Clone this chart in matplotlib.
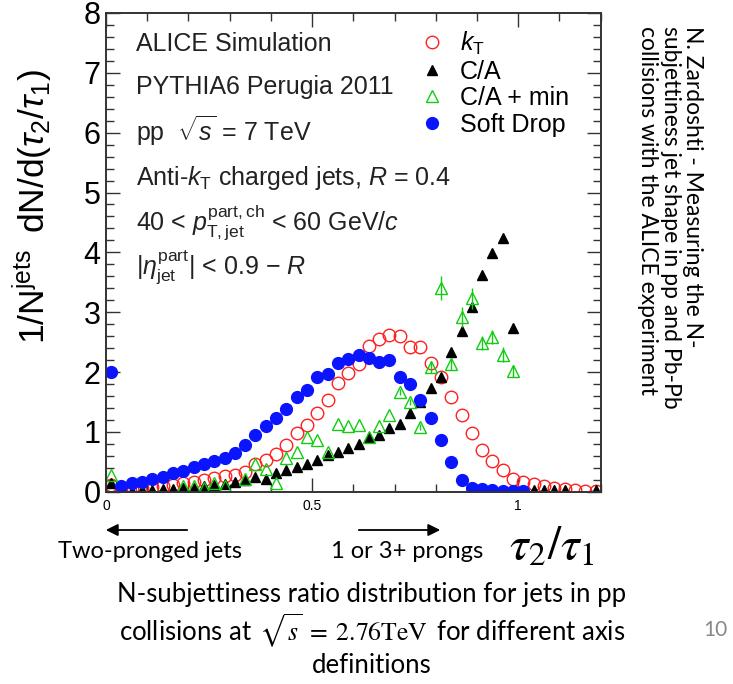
import numpy as np
import matplotlib
matplotlib.use("Agg")
import matplotlib.pyplot as plt
from matplotlib.lines import Line2D
from matplotlib.ticker import MultipleLocator

plt.rcParams['font.family'] = ['Liberation Sans', 'DejaVu Sans']
plt.rcParams['mathtext.fontset'] = 'custom'
plt.rcParams['mathtext.rm'] = 'Liberation Sans'
plt.rcParams['mathtext.it'] = 'Liberation Sans:italic'
plt.rcParams['mathtext.bf'] = 'Liberation Sans:bold'

nan = np.nan

# bin centres of tau2/tau1 (bin width 0.025)
tau_ratio = np.arange(48) * 0.025 + 0.0125

kt = [0.12, 0.05, 0.05, 0.06, 0.08, 0.10, 0.12, 0.14, 0.17, 0.20,
      0.23, 0.26, 0.28, 0.33, 0.47, 0.53, 0.63, 0.78, 0.98, 1.12,
      1.31, 1.53, 1.81, 1.98, 2.13, 2.43, 2.56, 2.62, 2.60, 2.42,
      2.42, 2.15, 1.92, 1.58, 1.28, 0.98, 0.70, 0.52, 0.37, 0.22,
      0.17, 0.13, 0.09, 0.06, 0.04, 0.03, 0.02, 0.02]

ca = [0.15, 0.02, 0.02, 0.03, 0.03, 0.04, 0.05, 0.06, 0.07, 0.09,
      0.11, 0.13, 0.17, 0.20, 0.25, 0.22, 0.31, 0.36, 0.42, 0.47,
      0.53, 0.61, 0.67, 0.73, 0.80, 0.91, 0.95, 1.06, 1.13, 1.31,
      1.50, 1.73, 1.91, 2.34, 2.68, 3.09, 3.62, 3.99, 4.24, 2.73,
      0.02, 0.03, 0.03, 0.03, 0.03, nan, nan, 0.03]

ca_min = [0.28, nan, nan, nan, nan, nan, nan, 0.10, 0.09, 0.07,
          0.14, 0.10, nan, 0.21, 0.46, 0.38, 0.14, 0.56, 0.67, 0.92,
          0.87, 0.67, 1.13, 1.10, 1.11, 0.92, 1.10, 1.28, 1.66, 1.50,
          1.08, 2.09, 3.40, 2.13, 2.92, 3.23, 2.48, 2.59, 2.29, 2.01,
          nan, nan, nan, nan, nan, nan, nan, nan]

ca_min_err = [0, 0, 0, 0, 0, 0, 0, 0, 0, 0,
              0, 0, 0, 0, 0, 0, 0, 0, 0, 0,
              0, 0, 0, 0, 0, 0, 0, 0, 0.05, 0.05,
              0.05, 0.1, 0.2, 0.1, 0.17, 0.17, 0.12, 0.12, 0.12, 0.1,
              0, 0, 0, 0, 0, 0, 0, 0]

soft_drop = [2.00, 0.10, 0.14, 0.17, 0.21, 0.25, 0.31, 0.35, 0.41, 0.46,
             0.51, 0.57, 0.64, 0.78, 0.95, 1.09, 1.24, 1.39, 1.59, 1.70,
             1.91, 1.97, 2.15, 2.21, 2.29, 2.24, 2.16, 2.20, 1.91, 1.80,
             1.54, 1.24, 0.86, 0.50, 0.20, 0.07, 0.04, 0.03, 0.02, 0.02,
             0.02, nan, nan, nan, nan, nan, nan, nan]

fig = plt.figure(figsize=(7.33, 6.84), dpi=100)
ax = fig.add_axes([106/733, 1-491.7/684, (600.7-106)/733, (491.7-13)/684])

red = '#ff2020'
green = '#11cc11'
blue = '#0a14ff'

ax.plot(tau_ratio, kt, 'o', ms=9, mfc='none', mec=red, mew=1.0, ls='none')
ax.plot(tau_ratio, ca, '^', ms=7.5, color='black', ls='none')
ax.errorbar(tau_ratio, ca_min, yerr=ca_min_err, fmt='^', ms=9, mfc='none',
            mec=green, mew=1.0, ecolor=green, elinewidth=1.0, capsize=0)
ax.plot(tau_ratio, soft_drop, 'o', ms=8.5, color=blue, ls='none')

ax.set_xlim(0, 1.2)
ax.set_ylim(0, 8)
ax.xaxis.set_minor_locator(MultipleLocator(0.1))
ax.yaxis.set_major_locator(MultipleLocator(1))
ax.yaxis.set_minor_locator(MultipleLocator(0.2))
ax.set_xticks([0, 0.5, 1])
ax.set_xticklabels(['0', '0.5', '1'])
ax.tick_params(which='both', direction='in', top=True, right=True, width=1.0, color='#333333')
ax.tick_params(which='major', length=10)
ax.tick_params(which='minor', length=5.5)
ax.tick_params(axis='y', labelsize=22, pad=4)
ax.tick_params(axis='x', labelsize=10, pad=5)
for s in ax.spines.values():
    s.set_linewidth(1.4)
    s.set_color('#333333')

ax.set_ylabel(r'$1/\mathrm{N}^{\mathrm{jets}}\;\;\mathrm{dN/d}(\tau_{2}/\tau_{1})$', fontsize=25.5)
ax.yaxis.set_label_coords(-0.103, 0.595)

# labels inside the frame
info = ['ALICE Simulation',
        'PYTHIA6 Perugia 2011',
        r'pp  $\sqrt{s}$ = 7 TeV',
        r'Anti-$k_{\mathrm{T}}$ charged jets, $R$ = 0.4',
        r'40 < $p_{\mathrm{T,jet}}^{\mathrm{part,ch}}$ < 60 GeV/$c$',
        r'|$\eta_{\mathrm{jet}}^{\mathrm{part}}$| < 0.9 $-$ $R$']
info_y = [0.935, 0.845, 0.753, 0.655, 0.563, 0.467]
for t, y in zip(info, info_y):
    ax.text(0.061, y, t, transform=ax.transAxes, fontsize=18, va='center', ha='left', color='#222222')

handles = [Line2D([], [], marker='o', ms=9, mfc='none', mec=red, mew=1.0, ls='none'),
           Line2D([], [], marker='^', ms=7.5, color='black', ls='none'),
           Line2D([], [], marker='^', ms=9, mfc='none', mec=green, mew=1.0, ls='none'),
           Line2D([], [], marker='o', ms=8.5, color=blue, ls='none')]
labels = [r'$k_{\mathrm{T}}$', 'C/A', 'C/A + min', 'Soft Drop']
ax.legend(handles, labels, loc='upper left', bbox_to_anchor=(0.639, 0.9645), frameon=False,
          fontsize=18, handlelength=0.8, handletextpad=0.7, labelspacing=0.1,
          borderpad=0, borderaxespad=0)

# x axis title and arrows
fig.text(552/733, 1-548/684, r'$\tau_{2}/\tau_{1}$', fontsize=34, ha='center', va='center',
         math_fontfamily='stix')
ax.annotate('', xy=(103/733, 1-530/684), xytext=(190/733, 1-530/684),
            xycoords='figure fraction', textcoords='figure fraction', annotation_clip=False,
            arrowprops=dict(arrowstyle='-|>', color='black', lw=1.3, mutation_scale=18))
ax.annotate('', xy=(443/733, 1-530/684), xytext=(356/733, 1-530/684),
            xycoords='figure fraction', textcoords='figure fraction', annotation_clip=False,
            arrowprops=dict(arrowstyle='-|>', color='black', lw=1.3, mutation_scale=18))
fig.text(150/733, 1-551/684, 'Two-pronged jets', fontsize=17, family='Lato', ha='center', va='center')
fig.text(407/733, 1-551/684, '1 or 3+ prongs', fontsize=17, family='Lato', ha='center', va='center')

caption = ('N-subjettiness ratio distribution for jets in pp\n'
           r'collisions at $\,\sqrt{s}\;=\;2.76\mathrm{TeV}\,$ for different axis' + '\n'
           'definitions')
fig.text(372/733, 1-630/684, caption, fontsize=18.5, family='Lato', ha='center', va='center',
         linespacing=1.15, math_fontfamily='stix')
fig.text(703/733, 1-630/684, '10', fontsize=15, family='Lato', color='#888888', ha='left', va='center')

side = ('N. Zardoshti - Measuring the N-\n'
        'subjettiness jet shape in pp and Pb-Pb\n'
        'collisions with the ALICE experiment')
fig.text(670/733, 1-26/684, side, fontsize=16.5, family='Lato', rotation=270,
         ha='center', va='top', multialignment='left', linespacing=1.1)

fig.savefig('out.png', dpi=100)
